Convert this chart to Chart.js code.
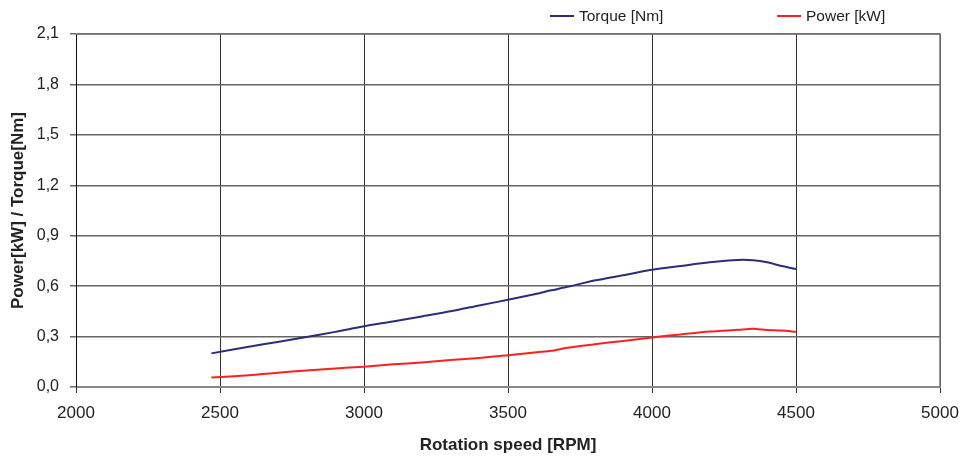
<!DOCTYPE html>
<html>
<head>
<meta charset="utf-8">
<script src="https://cdn.jsdelivr.net/npm/chart.js@4/dist/chart.umd.min.js"></script>
<style>
  html, body { margin: 0; padding: 0; background: #fff; }
  #wrap { position: relative; width: 962px; height: 459px; }
  .legend-item {
    position: absolute; top: 6px; height: 20px;
    font: 15.5px "Liberation Sans", Arial, sans-serif; color: #222;
    display: flex; align-items: center; white-space: nowrap;
  }
  .legend-item span.swatch { display: inline-block; width: 24px; height: 2px; margin-right: 5px; }
</style>
</head>
<body>
<div id="wrap">
  <canvas id="chart" width="962" height="459"></canvas>
</div>
<script>
const rpm = [2470, 2600, 2700, 2800, 2900, 3000, 3100, 3200, 3300, 3400, 3500, 3600, 3650, 3700, 3800, 3900, 4000, 4100, 4200, 4300, 4350, 4400, 4450, 4500];
const torque = [0.200, 0.240, 0.268, 0.297, 0.328, 0.362, 0.390, 0.420, 0.450, 0.485, 0.519, 0.555, 0.575, 0.593, 0.633, 0.665, 0.697, 0.720, 0.742, 0.756, 0.754, 0.742, 0.720, 0.702];
const power = [0.056, 0.070, 0.085, 0.098, 0.110, 0.121, 0.135, 0.146, 0.160, 0.173, 0.189, 0.207, 0.215, 0.232, 0.254, 0.274, 0.295, 0.313, 0.330, 0.340, 0.346, 0.339, 0.336, 0.328];

const seriesNames = ["Torque [Nm]", "Power [kW]"];
const seriesColors = ["#2a2d7c", "#ff2020"];
const xTicks = [2000, 2500, 3000, 3500, 4000, 4500, 5000];
const yTicks = [0, 0.3, 0.6, 0.9, 1.2, 1.5, 1.8, 2.1];

const FONT = '"Liberation Sans", Arial, sans-serif';

// legend as html, placed like the original
const legendPos = [550, 777];
seriesNames.forEach((name, i) => {
  const el = document.createElement("div");
  el.className = "legend-item";
  el.style.left = legendPos[i] + "px";
  el.innerHTML = `<span class="swatch" style="background:${seriesColors[i]}"></span>${name}`;
  document.getElementById("wrap").appendChild(el);
});

const toPoints = (ys) => ys.map((y, i) => ({ x: rpm[i], y }));

// top + right frame of the plot area
const frame = {
  id: "frame",
  afterDraw(chart) {
    const { ctx, chartArea: a } = chart;
    ctx.save();
    ctx.strokeStyle = "#777";
    ctx.lineWidth = 1.5;
    ctx.beginPath();
    ctx.moveTo(a.left, a.top);
    ctx.lineTo(a.right, a.top);
    ctx.lineTo(a.right, a.bottom);
    ctx.stroke();
    ctx.restore();
  },
};

new Chart(document.getElementById("chart"), {
  type: "line",
  data: {
    datasets: [
      {
        label: seriesNames[0],
        data: toPoints(torque),
        borderColor: seriesColors[0],
        borderWidth: 2,
        pointRadius: 0,
        tension: 0.25,
      },
      {
        label: seriesNames[1],
        data: toPoints(power),
        borderColor: seriesColors[1],
        borderWidth: 2,
        pointRadius: 0,
        tension: 0.25,
      },
    ],
  },
  options: {
    responsive: false,
    animation: false,
    layout: { padding: { top: 34, right: 22, left: 0, bottom: 0 } },
    plugins: { legend: { display: false }, tooltip: { enabled: false } },
    scales: {
      x: {
        type: "linear",
        min: 2000,
        max: 5000,
        afterBuildTicks: (s) => { s.ticks = xTicks.map((v) => ({ value: v })); },
        afterFit: (s) => {
          s.height = 72;
          s.paddingLeft = 0;
          s.paddingRight = 0;
        },
        grid: { color: "#333", lineWidth: 1, tickLength: 6, tickColor: "#333" },
        border: { color: "#888", width: 2 },
        ticks: {
          font: { family: FONT, size: 17 },
          color: "#222",
          padding: 10,
          maxRotation: 0,
          callback: (v) => String(v),
        },
        title: {
          display: true,
          text: "Rotation speed [RPM]",
          font: { family: FONT, size: 17, weight: "bold" },
          color: "#222",
          padding: { top: 0, bottom: 3 },
        },
      },
      y: {
        min: 0,
        max: 2.1,
        afterBuildTicks: (s) => { s.ticks = yTicks.map((v) => ({ value: v })); },
        afterFit: (s) => { s.width = 76; },
        grid: {
          color: (c) => (c.tick && c.tick.value === 0 ? "#888" : "#666"),
          lineWidth: 1.5,
          tickLength: 6,
          tickColor: "#666",
        },
        border: { color: "#111", width: 1 },
        ticks: {
          font: { family: FONT, size: 16 },
          color: "#222",
          padding: 11,
          callback: (v) => Number(v).toFixed(1).replace(".", ","),
        },
        title: {
          display: true,
          text: "Power[kW] / Torque[Nm]",
          font: { family: FONT, size: 17, weight: "bold" },
          color: "#222",
          padding: { top: 8, bottom: 0 },
        },
      },
    },
  },
  plugins: [frame],
});
</script>
</body>
</html>
